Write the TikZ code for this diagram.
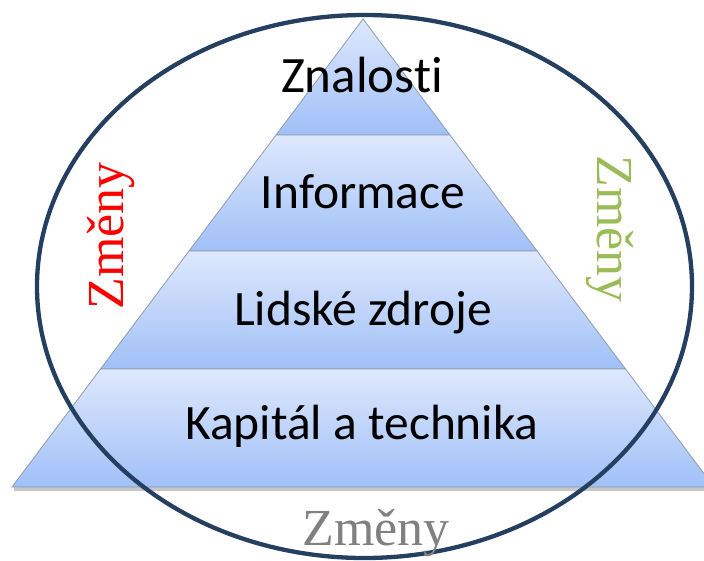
\documentclass[tikz,border=0pt]{standalone}
\usepackage{fontspec}
\setmainfont{Liberation Serif}
\newfontfamily\layerfont[Ligatures=NoCommon]{Carlito}
\usetikzlibrary{positioning}

\definecolor{layertop}{HTML}{DEE8FC}
\definecolor{layerbot}{HTML}{A0C0F7}
\definecolor{layeredge}{HTML}{8C9BB0}
\definecolor{ringblue}{HTML}{243F60}
\definecolor{changegreen}{HTML}{9BBB59}
\definecolor{changegray}{HTML}{808080}

\begin{document}
\begin{tikzpicture}[
  x=1pt, y=-1pt,
  layer/.style={draw=layeredge, line width=0.8pt, top color=layertop, bottom color=layerbot},
  tier/.style={font=\layerfont\fontsize{49.5}{49.5}\selectfont, anchor=base, inner sep=0pt},
  change/.style={font=\fontsize{52}{52}\selectfont, anchor=base, inner sep=0pt}
]
  \useasboundingbox (0,0) rectangle (704,560);

  % shadow under the base
  \fill[gray!45] (14,487) rectangle (712,491);

  % pyramid layers
  \path[layer] (363,19) -- (450,135) -- (276,135) -- cycle;
  \path[layer] (276,135) -- (450,135) -- (537,251) -- (189,251) -- cycle;
  \path[layer] (189,251) -- (537,251) -- (625.5,369) -- (100.5,369) -- cycle;
  \path[layer] (100.5,369) -- (625.5,369) -- (714,487) -- (12,487) -- cycle;

  \node[tier, font=\layerfont\fontsize{51}{51}\selectfont] (znalosti) at (362,92) {Znalosti};
  \node[tier] (informace) at (363,208) {Informace};
  \node[tier] (zdroje) at (363,325) {Lidské zdroje};
  \node[tier] (kapital) at (362,439) {Kapitál a technika};

  % ring of changes
  \draw[ringblue, line width=4.3pt] (364.5,286.5) ellipse [x radius=327.5, y radius=271.5];

  \node[change, red, rotate=90] (zmenyleft) at (123,236) {Změny};
  \node[change, changegreen, rotate=-90] (zmenyright) at (597,229) {Změny};
  \node[change, changegray] (zmenybottom) at (376,545) {Změny};
\end{tikzpicture}
\end{document}
